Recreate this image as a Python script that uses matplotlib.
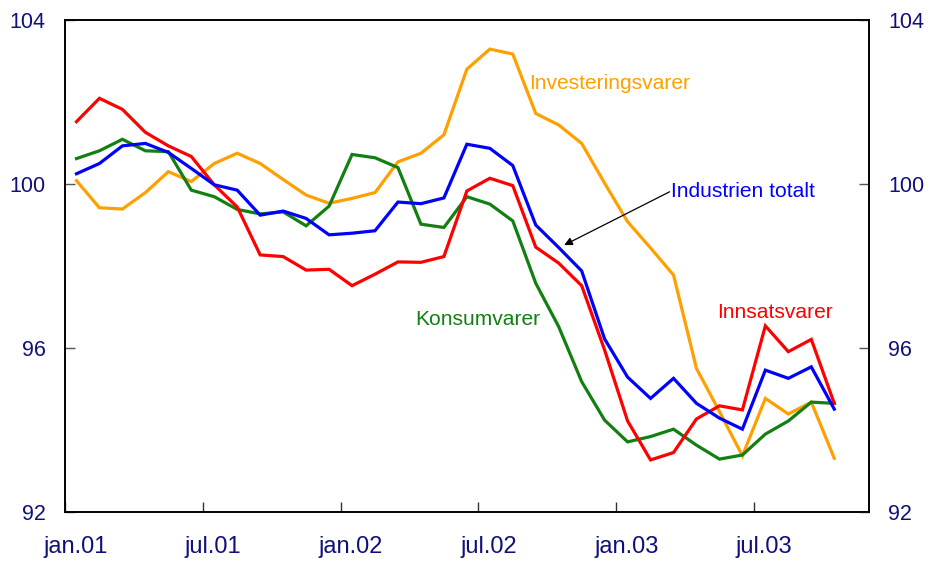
import matplotlib
matplotlib.use("Agg")
from matplotlib import pyplot as plt
import numpy as np

plt.rcParams['font.family'] = ['Liberation Sans', 'DejaVu Sans']

# månedlige indekser, jan.01 - okt.03
innsatsvarer = [101.52, 102.09, 101.82, 101.26, 100.93, 100.67, 99.98, 99.44, 98.27, 98.23,
                97.90, 97.92, 97.52, 97.80, 98.10, 98.09, 98.23, 99.83, 100.14, 99.96,
                98.46, 98.07, 97.52, 95.95, 94.22, 93.27, 93.45, 94.27, 94.59, 94.49,
                96.54, 95.91, 96.21, 94.65]
industrien = [100.25, 100.50, 100.93, 100.99, 100.77, 100.38, 99.98, 99.85, 99.24, 99.34,
              99.16, 98.76, 98.80, 98.86, 99.56, 99.52, 99.66, 100.97, 100.87, 100.45,
              99.00, 98.45, 97.88, 96.22, 95.29, 94.77, 95.26, 94.65, 94.29, 94.02,
              95.46, 95.26, 95.54, 94.51]
konsumvarer = [100.62, 100.81, 101.09, 100.81, 100.79, 99.85, 99.69, 99.38, 99.27, 99.32,
               98.98, 99.46, 100.72, 100.64, 100.40, 99.02, 98.94, 99.69, 99.51, 99.10,
               97.58, 96.52, 95.18, 94.24, 93.71, 93.84, 94.02, 93.63, 93.29, 93.39,
               93.90, 94.22, 94.68, 94.65]
investering = [100.08, 99.42, 99.39, 99.79, 100.30, 100.06, 100.50, 100.75, 100.50, 100.11,
               99.73, 99.53, 99.65, 99.79, 100.54, 100.75, 101.20, 102.80, 103.29, 103.17,
               101.72, 101.44, 100.99, 100.02, 99.08, 98.44, 97.78, 95.50, 94.45, 93.37,
               94.77, 94.39, 94.68, 93.31]

tick_labels = ["jan.01", "jul.01", "jan.02", "jul.02", "jan.03", "jul.03"]
y_ticks = [92, 96, 100, 104]

navy = "#10107a"
red = "#ff0000"
blue = "#0000ff"
green = "#118011"
orange = "#ffa000"

x = np.arange(len(innsatsvarer)) + 0.5

fig = plt.figure(figsize=(9.33, 5.61), dpi=100)
ax = fig.add_axes([65 / 933, 1 - 512 / 561, (868.7 - 65) / 933, (512 - 20) / 561])

ax.plot(x, investering, color=orange, linewidth=2.3, solid_joinstyle="miter")
ax.plot(x, konsumvarer, color=green, linewidth=2.3, solid_joinstyle="miter")
ax.plot(x, innsatsvarer, color=red, linewidth=2.3, solid_joinstyle="miter")
ax.plot(x, industrien, color=blue, linewidth=2.3, solid_joinstyle="miter")

ax.set_xlim(0, 35)
ax.set_ylim(92, 104)

# store ticks ved halvårsskiftet, tekst midt i måneden
ax.set_xticks(np.arange(0, 31, 6))
ax.set_xticklabels([])
ax.set_xticks(np.arange(0, 31, 6) + 0.45, minor=True)
ax.set_xticklabels(tick_labels, minor=True)
ax.tick_params(axis="x", which="major", direction="in", length=7, width=1, color="#333333")
ax.tick_params(axis="x", which="minor", length=0, pad=17, labelsize=17, labelcolor=navy)

ax.set_yticks(y_ticks)
ax.tick_params(axis="y", direction="in", length=7, width=1, color="#555555",
               pad=14, labelsize=15.5, labelcolor=navy)

ax2 = ax.twinx()
ax2.set_ylim(92, 104)
ax2.set_yticks(y_ticks)
ax2.tick_params(axis="y", direction="in", length=7, width=1, color="#555555",
                pad=14, labelsize=15.5, labelcolor=navy)

for a in (ax, ax2):
    for s in a.spines.values():
        s.set_linewidth(1.2)
        s.set_color("black")

ax.text(20.2, 102.32, "Investeringsvarer", color=orange, fontsize=15.1, va="baseline")
ax.text(26.38, 99.68, "Industrien totalt", color=blue, fontsize=15.1, va="baseline")
ax.text(15.26, 96.56, "Konsumvarer", color=green, fontsize=15.1, va="baseline")
ax.text(28.4, 96.72, "Innsatsvarer", color=red, fontsize=15.1, va="baseline")

ax.annotate("", xy=(21.74, 98.51), xytext=(26.33, 99.81),
            arrowprops=dict(arrowstyle="-|>", color="black", lw=0.9,
                            mutation_scale=12, shrinkA=0, shrinkB=0))

fig.savefig("out.png", dpi=100)
